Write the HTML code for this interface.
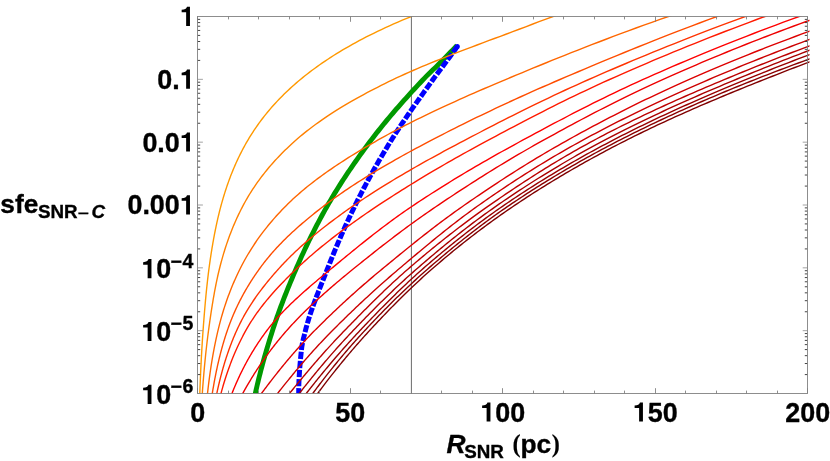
<!DOCTYPE html>
<html><head><meta charset="utf-8"><title>sfe vs R_SNR</title>
<style>
html,body{margin:0;padding:0;background:#fff;}
body{width:830px;height:461px;overflow:hidden;font-family:"Liberation Sans",sans-serif;}
svg{display:block;}
</style></head><body>
<svg width="830" height="461" viewBox="0 0 830 461">
<defs><clipPath id="c"><rect x="197.50" y="16.50" width="612.00" height="377.00"/></clipPath><filter id="gray" x="0" y="0" width="830" height="461" filterUnits="userSpaceOnUse" color-interpolation-filters="sRGB"><feColorMatrix type="saturate" values="0"/></filter></defs>
<rect width="830" height="461" fill="#fff"/>
<line x1="411.40" y1="16.50" x2="411.40" y2="393.50" stroke="#505050" stroke-width="0.85"/>
<g clip-path="url(#c)" fill="none" stroke-linejoin="round">
<path d="M255.30,393.50 L255.78,391.31 L256.28,389.12 L256.78,386.93 L257.29,384.75 L257.81,382.56 L258.34,380.37 L258.88,378.18 L259.43,375.99 L259.99,373.80 L260.55,371.61 L261.12,369.42 L261.71,367.24 L262.29,365.05 L262.89,362.86 L263.50,360.67 L264.11,358.48 L264.73,356.29 L265.36,354.10 L265.99,351.92 L266.63,349.73 L267.28,347.54 L267.93,345.35 L268.59,343.16 L269.26,340.97 L269.94,338.78 L270.62,336.59 L271.30,334.41 L271.99,332.22 L272.69,330.03 L273.40,327.84 L274.11,325.65 L274.84,323.46 L275.58,321.27 L276.34,319.08 L277.10,316.90 L277.87,314.71 L278.65,312.52 L279.45,310.33 L280.25,308.14 L281.06,305.95 L281.89,303.76 L282.72,301.58 L283.56,299.39 L284.41,297.20 L285.27,295.01 L286.13,292.82 L287.01,290.63 L287.89,288.44 L288.78,286.25 L289.68,284.07 L290.58,281.88 L291.49,279.69 L292.41,277.50 L293.33,275.31 L294.26,273.12 L295.20,270.93 L296.14,268.75 L297.09,266.56 L298.05,264.37 L299.01,262.18 L299.99,259.99 L300.97,257.80 L301.96,255.61 L302.97,253.42 L303.98,251.24 L305.00,249.05 L306.03,246.86 L307.07,244.67 L308.13,242.48 L309.19,240.29 L310.26,238.10 L311.34,235.92 L312.43,233.73 L313.54,231.54 L314.65,229.35 L315.78,227.16 L316.91,224.97 L318.06,222.78 L319.22,220.59 L320.39,218.41 L321.57,216.22 L322.76,214.03 L323.96,211.84 L325.18,209.65 L326.41,207.46 L327.64,205.27 L328.90,203.08 L330.17,200.90 L331.45,198.71 L332.75,196.52 L334.07,194.33 L335.40,192.14 L336.75,189.95 L338.11,187.76 L339.48,185.58 L340.87,183.39 L342.28,181.20 L343.70,179.01 L345.13,176.82 L346.58,174.63 L348.04,172.44 L349.52,170.25 L351.01,168.07 L352.51,165.88 L354.03,163.69 L355.55,161.50 L357.09,159.31 L358.65,157.12 L360.21,154.93 L361.79,152.75 L363.38,150.56 L364.98,148.37 L366.59,146.18 L368.21,143.99 L369.85,141.80 L371.50,139.61 L373.17,137.42 L374.86,135.24 L376.56,133.05 L378.29,130.86 L380.03,128.67 L381.79,126.48 L383.57,124.29 L385.37,122.10 L387.18,119.92 L389.01,117.73 L390.85,115.54 L392.71,113.35 L394.58,111.16 L396.47,108.97 L398.38,106.78 L400.30,104.59 L402.23,102.41 L404.18,100.22 L406.14,98.03 L408.11,95.84 L410.10,93.65 L412.10,91.46 L414.11,89.27 L416.13,87.08 L418.16,84.90 L420.21,82.71 L422.27,80.52 L424.34,78.33 L426.48,76.14 L428.69,73.95 L430.94,71.76 L433.21,69.58 L435.48,67.39 L437.70,65.20 L439.88,63.01 L442.06,60.82 L444.22,58.63 L446.37,56.44 L448.52,54.25 L450.65,52.07 L452.78,49.88 L454.90,47.69 L457.00,45.50" stroke="#009900" stroke-width="4.9"/>
<path d="M298.70,393.50 L298.71,391.32 L298.74,389.13 L298.78,386.95 L298.84,384.77 L298.91,382.58 L299.00,380.40 L299.11,378.21 L299.23,376.03 L299.36,373.85 L299.50,371.66 L299.65,369.48 L299.81,367.30 L299.99,365.11 L300.17,362.93 L300.36,360.75 L300.56,358.56 L300.77,356.38 L300.98,354.19 L301.20,352.01 L301.42,349.83 L301.69,347.64 L302.03,345.46 L302.43,343.28 L302.88,341.09 L303.37,338.91 L303.90,336.73 L304.44,334.54 L305.00,332.36 L305.56,330.17 L306.12,327.99 L306.71,325.81 L307.32,323.62 L307.96,321.44 L308.62,319.26 L309.30,317.07 L310.00,314.89 L310.72,312.71 L311.46,310.52 L312.22,308.34 L312.99,306.15 L313.77,303.97 L314.57,301.79 L315.38,299.60 L316.20,297.42 L317.03,295.24 L317.87,293.05 L318.72,290.87 L319.58,288.68 L320.44,286.50 L321.30,284.32 L322.17,282.13 L323.04,279.95 L323.91,277.77 L324.79,275.58 L325.66,273.40 L326.53,271.22 L327.40,269.03 L328.26,266.85 L329.12,264.66 L329.99,262.48 L330.87,260.30 L331.75,258.11 L332.63,255.93 L333.53,253.75 L334.43,251.56 L335.33,249.38 L336.24,247.20 L337.16,245.01 L338.08,242.83 L339.01,240.64 L339.95,238.46 L340.90,236.28 L341.85,234.09 L342.81,231.91 L343.78,229.73 L344.75,227.54 L345.74,225.36 L346.73,223.18 L347.73,220.99 L348.73,218.81 L349.75,216.62 L350.77,214.44 L351.80,212.26 L352.85,210.07 L353.90,207.89 L354.96,205.71 L356.02,203.52 L357.10,201.34 L358.19,199.16 L359.29,196.97 L360.41,194.79 L361.53,192.60 L362.66,190.42 L363.80,188.24 L364.95,186.05 L366.12,183.87 L367.29,181.69 L368.47,179.50 L369.66,177.32 L370.86,175.14 L372.08,172.95 L373.30,170.77 L374.53,168.58 L375.76,166.40 L377.01,164.22 L378.27,162.03 L379.53,159.85 L380.81,157.67 L382.09,155.48 L383.38,153.30 L384.68,151.12 L385.99,148.93 L387.31,146.75 L388.63,144.56 L389.97,142.38 L391.31,140.20 L392.67,138.01 L394.05,135.83 L395.44,133.65 L396.85,131.46 L398.27,129.28 L399.70,127.09 L401.15,124.91 L402.61,122.73 L404.08,120.54 L405.56,118.36 L407.05,116.18 L408.55,113.99 L410.06,111.81 L411.58,109.63 L413.11,107.44 L414.64,105.26 L416.18,103.07 L417.73,100.89 L419.28,98.71 L420.83,96.52 L422.39,94.34 L423.96,92.16 L425.52,89.97 L427.09,87.79 L428.66,85.61 L430.22,83.42 L431.79,81.24 L433.36,79.05 L434.94,76.87 L436.55,74.69 L438.17,72.50 L439.80,70.32 L441.44,68.14 L443.07,65.95 L444.70,63.77 L446.31,61.59 L447.91,59.40 L449.50,57.22 L451.09,55.03 L452.68,52.85 L454.25,50.67 L455.83,48.48 L457.40,46.30" stroke="#0000ff" stroke-width="5.0" stroke-dasharray="7.3 1.8" stroke-dashoffset="1.9" stroke-linecap="butt"/>
<circle cx="457.3" cy="46.6" r="2.5" fill="#0000ff" stroke="none"/>
<path d="M199.59,400.65 L199.80,393.40 L199.84,392.26 L199.88,391.11 L199.93,389.94 L199.97,388.77 L200.02,387.58 L200.06,386.39 L200.11,385.18 L200.16,383.96 L200.21,382.73 L200.26,381.50 L200.31,380.25 L200.36,378.99 L200.41,377.72 L200.47,376.44 L200.53,375.16 L200.58,373.86 L200.64,372.55 L200.70,371.24 L200.76,369.91 L200.82,368.58 L200.89,367.23 L200.95,365.88 L201.02,364.52 L201.09,363.15 L201.16,361.77 L201.23,360.39 L201.30,358.99 L201.37,357.59 L201.45,356.18 L201.53,354.76 L201.61,353.34 L201.69,351.90 L201.77,350.46 L201.85,349.01 L201.94,347.55 L202.03,346.09 L202.12,344.62 L202.21,343.14 L202.30,341.66 L202.40,340.16 L202.50,338.66 L202.60,337.16 L202.70,335.65 L202.81,334.13 L202.91,332.61 L203.02,331.08 L203.13,329.54 L203.25,327.99 L203.36,326.41 L203.48,324.82 L203.60,323.21 L203.73,321.58 L203.86,319.93 L203.99,318.27 L204.12,316.59 L204.25,314.90 L204.39,313.19 L204.53,311.47 L204.68,309.74 L204.83,308.00 L204.98,306.25 L205.13,304.48 L205.29,302.71 L205.45,300.93 L205.61,299.14 L205.78,297.34 L205.95,295.54 L206.13,293.73 L206.31,291.92 L206.49,290.10 L206.68,288.28 L206.87,286.46 L207.07,284.63 L207.27,282.81 L207.47,280.98 L207.68,279.16 L207.89,277.33 L208.11,275.51 L208.33,273.69 L208.56,271.88 L208.79,270.07 L209.03,268.26 L209.27,266.47 L209.52,264.66 L209.77,262.85 L210.03,261.04 L210.30,259.22 L210.57,257.40 L210.84,255.57 L211.13,253.73 L211.41,251.89 L211.71,250.05 L212.01,248.21 L212.32,246.36 L212.63,244.51 L212.95,242.65 L213.28,240.80 L213.61,238.94 L213.96,237.08 L214.31,235.22 L214.66,233.36 L215.03,231.49 L215.40,229.63 L215.78,227.77 L216.17,225.90 L216.57,224.04 L216.98,222.18 L217.40,220.32 L217.82,218.45 L218.25,216.60 L218.70,214.74 L219.15,212.89 L219.61,211.03 L220.09,209.18 L220.57,207.34 L221.06,205.50 L221.57,203.66 L222.09,201.82 L222.61,199.98 L223.15,198.14 L223.70,196.30 L224.26,194.47 L224.84,192.63 L225.43,190.79 L226.03,188.96 L226.64,187.12 L227.26,185.29 L227.90,183.46 L228.56,181.62 L229.23,179.79 L229.91,177.96 L230.61,176.12 L231.32,174.29 L232.05,172.46 L232.79,170.63 L233.55,168.80 L234.33,166.97 L235.12,165.14 L235.93,163.31 L236.76,161.48 L237.61,159.65 L238.48,157.82 L239.36,155.99 L240.26,154.16 L241.19,152.33 L242.13,150.51 L243.09,148.68 L244.08,146.85 L245.08,145.03 L246.11,143.20 L247.16,141.37 L248.24,139.55 L249.33,137.72 L250.46,135.90 L251.60,134.08 L252.77,132.26 L253.97,130.44 L255.19,128.62 L256.44,126.80 L257.71,124.99 L259.02,123.17 L260.35,121.36 L261.71,119.54 L263.10,117.72 L264.52,115.91 L265.97,114.09 L267.46,112.28 L268.97,110.46 L270.52,108.65 L272.10,106.83 L273.72,105.02 L275.37,103.20 L277.06,101.38 L278.79,99.56 L280.55,97.74 L282.35,95.92 L284.19,94.10 L286.07,92.28 L287.99,90.45 L289.96,88.63 L291.96,86.80 L294.01,84.97 L296.11,83.14 L298.25,81.31 L300.43,79.47 L302.67,77.63 L304.95,75.80 L307.28,73.96 L309.67,72.12 L312.10,70.28 L314.59,68.44 L317.13,66.59 L319.73,64.75 L322.39,62.91 L325.10,61.06 L327.87,59.22 L330.70,57.37 L333.60,55.52 L336.56,53.67 L339.58,51.82 L342.67,49.97 L345.82,48.12 L349.04,46.27 L352.34,44.41 L355.70,42.56 L359.14,40.70 L362.66,38.85 L366.25,36.99 L369.92,35.13 L373.66,33.27 L377.49,31.41 L381.41,29.55 L385.41,27.69 L389.49,25.83 L393.67,23.96 L397.94,22.10 L402.29,20.23 L406.75,18.37 L411.30,16.50 L416.27,14.52" stroke="#ff9900" stroke-width="1.4"/>
<path d="M201.82,401.61 L202.30,393.40 L202.39,392.14 L202.48,390.88 L202.57,389.60 L202.67,388.32 L202.76,387.02 L202.86,385.72 L202.96,384.41 L203.07,383.09 L203.17,381.76 L203.28,380.42 L203.39,379.08 L203.50,377.73 L203.61,376.36 L203.73,374.99 L203.84,373.62 L203.96,372.23 L204.09,370.84 L204.21,369.43 L204.34,368.02 L204.47,366.61 L204.60,365.18 L204.74,363.75 L204.88,362.31 L205.02,360.86 L205.16,359.41 L205.31,357.95 L205.46,356.48 L205.61,355.00 L205.77,353.52 L205.93,352.03 L206.09,350.53 L206.26,349.03 L206.43,347.52 L206.60,346.01 L206.78,344.48 L206.96,342.96 L207.14,341.42 L207.33,339.88 L207.52,338.33 L207.71,336.78 L207.91,335.22 L208.11,333.66 L208.32,332.09 L208.53,330.51 L208.75,328.92 L208.97,327.32 L209.19,325.70 L209.42,324.06 L209.65,322.40 L209.89,320.73 L210.13,319.04 L210.38,317.33 L210.63,315.62 L210.89,313.89 L211.15,312.15 L211.42,310.40 L211.70,308.64 L211.98,306.87 L212.26,305.09 L212.55,303.30 L212.85,301.51 L213.15,299.71 L213.46,297.91 L213.78,296.11 L214.10,294.30 L214.42,292.49 L214.76,290.68 L215.10,288.87 L215.45,287.06 L215.80,285.25 L216.17,283.45 L216.54,281.65 L216.91,279.85 L217.30,278.06 L217.69,276.27 L218.09,274.50 L218.50,272.73 L218.92,270.97 L219.35,269.22 L219.78,267.47 L220.22,265.74 L220.67,264.01 L221.14,262.29 L221.61,260.56 L222.09,258.84 L222.58,257.11 L223.08,255.39 L223.59,253.67 L224.11,251.96 L224.64,250.24 L225.18,248.52 L225.73,246.81 L226.29,245.10 L226.87,243.38 L227.46,241.67 L228.05,239.96 L228.67,238.25 L229.29,236.55 L229.92,234.84 L230.57,233.13 L231.23,231.43 L231.91,229.72 L232.60,228.02 L233.30,226.31 L234.02,224.61 L234.75,222.90 L235.50,221.20 L236.26,219.50 L237.03,217.80 L237.83,216.09 L238.63,214.39 L239.46,212.69 L240.30,210.99 L241.16,209.29 L242.04,207.58 L242.93,205.88 L243.84,204.18 L244.77,202.48 L245.72,200.78 L246.69,199.09 L247.68,197.39 L248.69,195.70 L249.71,194.01 L250.76,192.33 L251.83,190.64 L252.93,188.95 L254.04,187.27 L255.18,185.59 L256.34,183.90 L257.52,182.22 L258.73,180.54 L259.96,178.85 L261.22,177.17 L262.50,175.49 L263.81,173.81 L265.14,172.12 L266.50,170.44 L267.89,168.75 L269.31,167.06 L270.76,165.38 L272.23,163.69 L273.74,161.99 L275.27,160.30 L276.84,158.61 L278.44,156.91 L280.07,155.21 L281.73,153.50 L283.43,151.80 L285.16,150.09 L286.93,148.38 L288.74,146.66 L290.57,144.94 L292.45,143.22 L294.37,141.49 L296.32,139.77 L298.31,138.04 L300.35,136.32 L302.42,134.60 L304.54,132.88 L306.70,131.16 L308.90,129.44 L311.15,127.72 L313.44,126.00 L315.78,124.28 L318.17,122.56 L320.61,120.84 L323.09,119.11 L325.63,117.38 L328.21,115.65 L330.85,113.92 L333.54,112.18 L336.29,110.44 L339.09,108.69 L341.95,106.94 L344.87,105.19 L347.85,103.42 L350.88,101.66 L353.98,99.88 L357.14,98.10 L360.37,96.32 L363.66,94.52 L367.01,92.72 L370.44,90.91 L373.93,89.09 L377.50,87.27 L381.14,85.43 L384.85,83.58 L388.63,81.73 L392.50,79.86 L396.44,77.99 L400.46,76.11 L404.56,74.24 L408.74,72.37 L413.01,70.49 L417.37,68.61 L421.81,66.72 L426.35,64.83 L430.98,62.92 L435.70,61.00 L440.51,59.07 L445.43,57.12 L450.44,55.15 L455.55,53.16 L460.77,51.15 L466.09,49.11 L471.53,47.05 L477.07,44.97 L482.72,42.85 L488.49,40.70 L494.37,38.52 L500.38,36.30 L506.50,34.03 L512.75,31.68 L519.13,29.27 L525.63,26.79 L532.27,24.26 L539.04,21.70 L545.95,19.11 L553.00,16.50 L561.27,13.65" stroke="#ff8000" stroke-width="1.4"/>
<path d="M206.46,403.21 L207.50,393.40 L207.67,391.87 L207.85,390.34 L208.03,388.81 L208.21,387.28 L208.39,385.75 L208.58,384.22 L208.77,382.69 L208.97,381.16 L209.17,379.64 L209.37,378.11 L209.57,376.59 L209.78,375.07 L209.99,373.55 L210.21,372.02 L210.43,370.50 L210.66,368.98 L210.89,367.47 L211.12,365.95 L211.36,364.43 L211.60,362.92 L211.84,361.40 L212.09,359.89 L212.35,358.37 L212.61,356.86 L212.87,355.35 L213.14,353.84 L213.41,352.33 L213.69,350.82 L213.97,349.31 L214.26,347.81 L214.55,346.30 L214.85,344.79 L215.16,343.29 L215.47,341.79 L215.78,340.28 L216.10,338.78 L216.43,337.28 L216.76,335.78 L217.10,334.28 L217.44,332.79 L217.79,331.29 L218.15,329.79 L218.51,328.30 L218.88,326.81 L219.26,325.32 L219.64,323.83 L220.03,322.35 L220.43,320.87 L220.83,319.39 L221.24,317.91 L221.66,316.43 L222.09,314.95 L222.52,313.48 L222.96,312.01 L223.41,310.54 L223.87,309.07 L224.34,307.60 L224.81,306.13 L225.29,304.66 L225.78,303.19 L226.28,301.72 L226.79,300.26 L227.31,298.79 L227.84,297.32 L228.37,295.86 L228.92,294.39 L229.48,292.92 L230.04,291.45 L230.62,289.98 L231.21,288.51 L231.80,287.04 L232.41,285.57 L233.03,284.09 L233.66,282.62 L234.30,281.14 L234.95,279.66 L235.62,278.18 L236.29,276.70 L236.98,275.22 L237.68,273.73 L238.40,272.24 L239.12,270.75 L239.86,269.26 L240.61,267.76 L241.38,266.26 L242.16,264.76 L242.95,263.26 L243.76,261.76 L244.58,260.27 L245.42,258.77 L246.27,257.27 L247.14,255.77 L248.02,254.27 L248.92,252.77 L249.84,251.27 L250.77,249.77 L251.71,248.26 L252.68,246.76 L253.66,245.26 L254.66,243.75 L255.68,242.24 L256.71,240.73 L257.77,239.22 L258.84,237.71 L259.94,236.20 L261.05,234.68 L262.18,233.17 L263.33,231.65 L264.51,230.13 L265.70,228.60 L266.92,227.08 L268.15,225.55 L269.41,224.01 L270.69,222.48 L272.00,220.94 L273.33,219.40 L274.68,217.86 L276.06,216.31 L277.46,214.76 L278.89,213.21 L280.34,211.65 L281.82,210.09 L283.32,208.53 L284.85,206.96 L286.41,205.39 L288.00,203.81 L289.61,202.24 L291.26,200.67 L292.93,199.11 L294.64,197.54 L296.37,195.98 L298.14,194.41 L299.93,192.85 L301.76,191.28 L303.62,189.71 L305.52,188.15 L307.45,186.58 L309.41,185.01 L311.41,183.43 L313.45,181.85 L315.52,180.27 L317.63,178.68 L319.78,177.09 L321.96,175.50 L324.18,173.90 L326.45,172.29 L328.75,170.67 L331.10,169.05 L333.49,167.42 L335.92,165.79 L338.39,164.14 L340.91,162.49 L343.48,160.82 L346.09,159.15 L348.74,157.46 L351.45,155.77 L354.20,154.06 L357.00,152.35 L359.86,150.62 L362.76,148.87 L365.72,147.12 L368.73,145.35 L371.79,143.56 L374.91,141.77 L378.08,139.96 L381.31,138.14 L384.60,136.32 L387.95,134.49 L391.35,132.65 L394.82,130.80 L398.35,128.94 L401.95,127.07 L405.61,125.19 L409.33,123.29 L413.12,121.39 L416.98,119.47 L420.91,117.54 L424.91,115.59 L428.98,113.63 L433.12,111.66 L437.34,109.66 L441.63,107.66 L446.00,105.63 L450.45,103.59 L454.98,101.53 L459.59,99.45 L464.28,97.35 L469.05,95.23 L473.92,93.09 L478.86,90.93 L483.90,88.75 L489.03,86.55 L494.25,84.33 L499.56,82.08 L504.97,79.81 L510.48,77.51 L516.08,75.17 L521.79,72.81 L527.59,70.40 L533.51,67.97 L539.52,65.50 L545.65,63.00 L551.88,60.47 L558.23,57.92 L564.69,55.33 L571.27,52.71 L577.96,50.07 L584.78,47.40 L591.71,44.70 L598.77,41.98 L605.96,39.24 L613.28,36.47 L620.72,33.68 L628.31,30.86 L636.02,28.03 L643.88,25.17 L651.87,22.30 L660.01,19.41 L668.30,16.50 L679.26,13.08" stroke="#ff6600" stroke-width="1.4"/>
<path d="M210.73,403.53 L212.30,393.40 L212.54,391.93 L212.78,390.45 L213.02,388.98 L213.27,387.51 L213.53,386.04 L213.79,384.57 L214.05,383.11 L214.31,381.65 L214.59,380.18 L214.86,378.72 L215.14,377.26 L215.43,375.81 L215.71,374.35 L216.01,372.90 L216.31,371.44 L216.61,369.99 L216.92,368.54 L217.23,367.09 L217.55,365.65 L217.88,364.20 L218.21,362.76 L218.54,361.32 L218.88,359.88 L219.23,358.44 L219.58,357.00 L219.94,355.57 L220.30,354.14 L220.67,352.70 L221.05,351.27 L221.43,349.85 L221.82,348.42 L222.21,346.99 L222.61,345.57 L223.02,344.15 L223.44,342.73 L223.86,341.31 L224.29,339.90 L224.72,338.48 L225.16,337.07 L225.61,335.66 L226.07,334.25 L226.54,332.84 L227.01,331.43 L227.49,330.03 L227.98,328.63 L228.47,327.23 L228.98,325.84 L229.49,324.45 L230.01,323.06 L230.54,321.68 L231.08,320.31 L231.63,318.93 L232.19,317.56 L232.75,316.19 L233.33,314.83 L233.91,313.46 L234.51,312.10 L235.11,310.74 L235.72,309.38 L236.35,308.03 L236.98,306.67 L237.63,305.32 L238.28,303.97 L238.95,302.62 L239.63,301.27 L240.32,299.92 L241.02,298.57 L241.73,297.21 L242.45,295.86 L243.19,294.51 L243.93,293.16 L244.69,291.81 L245.47,290.46 L246.25,289.10 L247.05,287.75 L247.86,286.39 L248.68,285.03 L249.52,283.67 L250.37,282.30 L251.24,280.94 L252.12,279.57 L253.02,278.20 L253.93,276.82 L254.85,275.45 L255.79,274.06 L256.75,272.68 L257.72,271.29 L258.70,269.90 L259.71,268.50 L260.73,267.10 L261.76,265.70 L262.82,264.30 L263.89,262.90 L264.98,261.50 L266.08,260.11 L267.21,258.72 L268.35,257.33 L269.52,255.94 L270.70,254.55 L271.90,253.16 L273.12,251.76 L274.36,250.37 L275.62,248.98 L276.91,247.59 L278.21,246.19 L279.54,244.80 L280.88,243.40 L282.25,242.00 L283.65,240.59 L285.06,239.18 L286.50,237.77 L287.96,236.36 L289.45,234.94 L290.96,233.51 L292.49,232.09 L294.05,230.65 L295.64,229.21 L297.25,227.77 L298.89,226.31 L300.56,224.86 L302.26,223.39 L303.98,221.92 L305.73,220.44 L307.51,218.95 L309.32,217.45 L311.16,215.95 L313.02,214.44 L314.92,212.91 L316.86,211.38 L318.82,209.84 L320.81,208.29 L322.84,206.72 L324.90,205.15 L327.00,203.57 L329.13,201.98 L331.30,200.39 L333.50,198.79 L335.74,197.18 L338.01,195.57 L340.32,193.96 L342.67,192.33 L345.06,190.70 L347.49,189.06 L349.96,187.42 L352.47,185.76 L355.02,184.10 L357.61,182.43 L360.25,180.74 L362.93,179.05 L365.65,177.35 L368.42,175.64 L371.23,173.91 L374.09,172.18 L377.00,170.43 L379.96,168.68 L382.96,166.91 L386.02,165.12 L389.12,163.33 L392.28,161.52 L395.49,159.69 L398.75,157.86 L402.06,156.00 L405.43,154.14 L408.85,152.26 L412.34,150.36 L415.87,148.44 L419.47,146.52 L423.13,144.57 L426.85,142.61 L430.62,140.63 L434.46,138.62 L438.37,136.60 L442.34,134.56 L446.37,132.50 L450.47,130.42 L454.64,128.31 L458.88,126.19 L463.18,124.05 L467.56,121.88 L472.01,119.70 L476.54,117.49 L481.13,115.27 L485.81,113.02 L490.56,110.76 L495.39,108.47 L500.30,106.17 L505.29,103.84 L510.36,101.50 L515.52,99.13 L520.76,96.75 L526.09,94.34 L531.50,91.92 L537.01,89.47 L542.61,87.00 L548.30,84.52 L554.08,82.01 L559.96,79.49 L565.93,76.94 L572.00,74.35 L578.18,71.74 L584.45,69.08 L590.83,66.40 L597.32,63.68 L603.91,60.93 L610.61,58.15 L617.42,55.35 L624.34,52.51 L631.38,49.64 L638.54,46.75 L645.81,43.83 L653.20,40.89 L660.71,37.92 L668.35,34.93 L676.12,31.91 L684.01,28.87 L692.03,25.81 L700.18,22.73 L708.47,19.62 L716.90,16.50 L728.99,12.47" stroke="#ff4d00" stroke-width="1.4"/>
<path d="M214.74,403.48 L216.80,393.40 L217.09,392.03 L217.39,390.66 L217.69,389.29 L218.00,387.93 L218.31,386.56 L218.63,385.20 L218.95,383.83 L219.27,382.47 L219.60,381.11 L219.94,379.75 L220.28,378.39 L220.63,377.03 L220.98,375.68 L221.34,374.32 L221.70,372.97 L222.07,371.61 L222.44,370.26 L222.82,368.91 L223.21,367.56 L223.60,366.21 L224.00,364.86 L224.40,363.51 L224.81,362.16 L225.23,360.82 L225.65,359.47 L226.08,358.13 L226.52,356.79 L226.96,355.45 L227.41,354.11 L227.87,352.77 L228.34,351.43 L228.81,350.09 L229.29,348.76 L229.77,347.42 L230.27,346.09 L230.77,344.76 L231.28,343.43 L231.79,342.10 L232.32,340.77 L232.85,339.44 L233.39,338.11 L233.94,336.79 L234.50,335.46 L235.07,334.14 L235.64,332.82 L236.23,331.50 L236.82,330.18 L237.42,328.86 L238.03,327.55 L238.66,326.24 L239.29,324.94 L239.93,323.64 L240.58,322.35 L241.24,321.06 L241.91,319.78 L242.59,318.50 L243.29,317.22 L243.99,315.94 L244.70,314.67 L245.43,313.40 L246.16,312.13 L246.91,310.87 L247.67,309.60 L248.44,308.34 L249.22,307.07 L250.02,305.81 L250.83,304.55 L251.65,303.29 L252.48,302.02 L253.32,300.76 L254.18,299.50 L255.05,298.23 L255.94,296.96 L256.84,295.70 L257.75,294.43 L258.68,293.15 L259.62,291.88 L260.57,290.60 L261.55,289.31 L262.53,288.03 L263.53,286.74 L264.55,285.45 L265.58,284.15 L266.63,282.84 L267.69,281.54 L268.77,280.22 L269.87,278.90 L270.99,277.58 L272.12,276.25 L273.27,274.91 L274.44,273.56 L275.62,272.21 L276.82,270.85 L278.05,269.49 L279.29,268.11 L280.55,266.73 L281.83,265.34 L283.13,263.95 L284.45,262.56 L285.79,261.17 L287.15,259.78 L288.53,258.38 L289.94,256.98 L291.36,255.58 L292.81,254.17 L294.28,252.76 L295.77,251.34 L297.29,249.93 L298.83,248.50 L300.39,247.08 L301.98,245.64 L303.59,244.21 L305.23,242.77 L306.89,241.32 L308.58,239.86 L310.29,238.40 L312.03,236.94 L313.80,235.46 L315.59,233.98 L317.42,232.50 L319.27,231.00 L321.15,229.50 L323.06,227.99 L324.99,226.48 L326.96,224.95 L328.96,223.41 L330.99,221.87 L333.05,220.32 L335.15,218.76 L337.27,217.19 L339.43,215.60 L341.62,214.01 L343.85,212.41 L346.11,210.80 L348.40,209.18 L350.74,207.54 L353.10,205.90 L355.51,204.24 L357.95,202.57 L360.43,200.90 L362.94,199.22 L365.50,197.52 L368.09,195.82 L370.73,194.11 L373.41,192.39 L376.13,190.65 L378.89,188.91 L381.69,187.16 L384.54,185.39 L387.43,183.61 L390.36,181.82 L393.34,180.02 L396.37,178.20 L399.44,176.37 L402.56,174.53 L405.73,172.67 L408.95,170.80 L412.22,168.91 L415.54,167.01 L418.91,165.10 L422.34,163.17 L425.81,161.22 L429.34,159.26 L432.93,157.28 L436.57,155.28 L440.26,153.27 L444.02,151.24 L447.83,149.19 L451.70,147.12 L455.63,145.04 L459.62,142.93 L463.67,140.81 L467.79,138.65 L471.97,136.47 L476.22,134.25 L480.53,132.00 L484.90,129.73 L489.35,127.42 L493.86,125.09 L498.45,122.74 L503.10,120.36 L507.83,117.96 L512.63,115.53 L517.50,113.09 L522.45,110.62 L527.48,108.13 L532.58,105.63 L537.77,103.10 L543.03,100.56 L548.38,98.01 L553.80,95.44 L559.32,92.85 L564.91,90.25 L570.60,87.65 L576.37,85.02 L582.23,82.39 L588.18,79.75 L594.23,77.10 L600.37,74.43 L606.60,71.73 L612.93,69.01 L619.36,66.26 L625.89,63.50 L632.51,60.71 L639.25,57.90 L646.08,55.06 L653.02,52.21 L660.07,49.34 L667.23,46.44 L674.50,43.53 L681.88,40.60 L689.38,37.65 L696.99,34.68 L704.72,31.69 L712.57,28.69 L720.54,25.67 L728.63,22.63 L736.85,19.57 L745.20,16.50 L757.95,12.19" stroke="#ff3300" stroke-width="1.4"/>
<path d="M218.49,403.32 L221.00,393.40 L221.34,392.14 L221.69,390.87 L222.04,389.61 L222.39,388.35 L222.75,387.09 L223.12,385.82 L223.49,384.56 L223.86,383.30 L224.25,382.04 L224.64,380.78 L225.03,379.51 L225.43,378.25 L225.83,376.99 L226.24,375.73 L226.66,374.47 L227.09,373.21 L227.51,371.95 L227.95,370.69 L228.39,369.43 L228.84,368.17 L229.30,366.91 L229.76,365.64 L230.23,364.38 L230.70,363.12 L231.19,361.87 L231.68,360.61 L232.18,359.35 L232.68,358.09 L233.19,356.83 L233.71,355.57 L234.24,354.31 L234.77,353.05 L235.32,351.79 L235.87,350.53 L236.43,349.27 L236.99,348.02 L237.57,346.76 L238.15,345.50 L238.75,344.24 L239.35,342.98 L239.96,341.73 L240.58,340.47 L241.20,339.21 L241.84,337.95 L242.49,336.70 L243.14,335.44 L243.81,334.18 L244.49,332.93 L245.17,331.67 L245.87,330.41 L246.57,329.16 L247.29,327.91 L248.02,326.66 L248.76,325.42 L249.50,324.19 L250.26,322.96 L251.04,321.73 L251.82,320.50 L252.61,319.28 L253.42,318.06 L254.23,316.85 L255.06,315.63 L255.91,314.42 L256.76,313.21 L257.63,312.00 L258.50,310.79 L259.40,309.58 L260.30,308.38 L261.22,307.17 L262.15,305.96 L263.10,304.75 L264.06,303.54 L265.03,302.33 L266.02,301.11 L267.02,299.90 L268.04,298.68 L269.07,297.46 L270.12,296.23 L271.19,295.00 L272.26,293.77 L273.36,292.54 L274.47,291.30 L275.60,290.05 L276.74,288.80 L277.90,287.55 L279.08,286.28 L280.27,285.02 L281.49,283.74 L282.72,282.46 L283.97,281.18 L285.23,279.88 L286.52,278.58 L287.82,277.27 L289.15,275.95 L290.49,274.62 L291.85,273.29 L293.24,271.94 L294.64,270.58 L296.06,269.22 L297.51,267.84 L298.98,266.46 L300.46,265.06 L301.97,263.67 L303.51,262.26 L305.06,260.86 L306.64,259.44 L308.24,258.02 L309.86,256.59 L311.51,255.16 L313.18,253.72 L314.88,252.27 L316.60,250.82 L318.35,249.36 L320.12,247.89 L321.92,246.41 L323.75,244.93 L325.60,243.44 L327.48,241.93 L329.39,240.43 L331.33,238.91 L333.29,237.38 L335.28,235.85 L337.31,234.30 L339.36,232.75 L341.44,231.18 L343.55,229.61 L345.70,228.03 L347.87,226.43 L350.08,224.83 L352.32,223.22 L354.60,221.59 L356.90,219.95 L359.24,218.31 L361.62,216.65 L364.03,214.98 L366.47,213.29 L368.96,211.60 L371.47,209.89 L374.03,208.18 L376.62,206.44 L379.25,204.70 L381.92,202.94 L384.63,201.17 L387.38,199.38 L390.17,197.57 L393.00,195.75 L395.87,193.92 L398.79,192.06 L401.75,190.20 L404.75,188.31 L407.79,186.41 L410.88,184.50 L414.02,182.57 L417.20,180.62 L420.43,178.66 L423.70,176.68 L427.03,174.69 L430.40,172.68 L433.82,170.66 L437.30,168.62 L440.82,166.56 L444.40,164.49 L448.02,162.41 L451.71,160.30 L455.44,158.19 L459.23,156.05 L463.08,153.90 L466.99,151.74 L470.95,149.56 L474.97,147.36 L479.05,145.15 L483.18,142.92 L487.38,140.67 L491.65,138.39 L495.97,136.08 L500.36,133.74 L504.81,131.37 L509.33,128.98 L513.91,126.55 L518.57,124.11 L523.29,121.63 L528.08,119.14 L532.94,116.62 L537.87,114.08 L542.88,111.52 L547.95,108.95 L553.11,106.35 L558.34,103.74 L563.64,101.12 L569.03,98.48 L574.49,95.84 L580.03,93.18 L585.66,90.51 L591.37,87.83 L597.16,85.15 L603.04,82.46 L609.00,79.76 L615.06,77.06 L621.20,74.34 L627.43,71.60 L633.75,68.84 L640.17,66.07 L646.68,63.28 L653.29,60.47 L659.99,57.65 L666.79,54.81 L673.70,51.95 L680.70,49.08 L687.81,46.19 L695.02,43.29 L702.34,40.37 L709.76,37.44 L717.30,34.49 L724.95,31.52 L732.71,28.55 L740.58,25.56 L748.57,22.55 L756.67,19.53 L764.90,16.50 L778.11,11.97" stroke="#ff1a00" stroke-width="1.4"/>
<path d="M228.29,403.67 L232.00,393.40 L232.45,392.26 L232.91,391.13 L233.37,389.99 L233.83,388.85 L234.31,387.71 L234.79,386.57 L235.28,385.42 L235.77,384.28 L236.27,383.13 L236.77,381.98 L237.29,380.84 L237.81,379.69 L238.33,378.54 L238.87,377.38 L239.41,376.23 L239.95,375.07 L240.51,373.92 L241.07,372.76 L241.64,371.60 L242.22,370.44 L242.80,369.28 L243.39,368.12 L243.99,366.95 L244.60,365.79 L245.22,364.62 L245.84,363.46 L246.47,362.29 L247.11,361.12 L247.76,359.95 L248.42,358.77 L249.09,357.60 L249.76,356.43 L250.45,355.25 L251.14,354.07 L251.84,352.89 L252.55,351.71 L253.27,350.53 L254.00,349.35 L254.74,348.17 L255.49,346.98 L256.25,345.80 L257.02,344.61 L257.80,343.42 L258.59,342.23 L259.39,341.04 L260.20,339.85 L261.03,338.66 L261.86,337.47 L262.70,336.27 L263.56,335.08 L264.42,333.88 L265.30,332.68 L266.19,331.48 L267.09,330.28 L268.00,329.08 L268.93,327.89 L269.86,326.70 L270.81,325.51 L271.77,324.33 L272.75,323.16 L273.73,321.99 L274.73,320.82 L275.75,319.65 L276.77,318.49 L277.82,317.33 L278.87,316.17 L279.94,315.01 L281.02,313.85 L282.12,312.69 L283.23,311.53 L284.35,310.37 L285.49,309.21 L286.65,308.05 L287.82,306.88 L289.00,305.72 L290.20,304.55 L291.42,303.37 L292.66,302.19 L293.91,301.01 L295.17,299.83 L296.45,298.63 L297.75,297.44 L299.07,296.23 L300.41,295.02 L301.76,293.81 L303.13,292.58 L304.51,291.35 L305.92,290.11 L307.35,288.86 L308.79,287.61 L310.25,286.34 L311.73,285.06 L313.23,283.77 L314.76,282.48 L316.30,281.17 L317.86,279.84 L319.44,278.51 L321.04,277.16 L322.67,275.81 L324.31,274.43 L325.98,273.05 L327.67,271.64 L329.38,270.23 L331.12,268.80 L332.87,267.35 L334.65,265.89 L336.46,264.40 L338.28,262.89 L340.13,261.37 L342.01,259.82 L343.91,258.25 L345.84,256.66 L347.79,255.06 L349.76,253.43 L351.77,251.79 L353.80,250.13 L355.85,248.46 L357.94,246.77 L360.05,245.07 L362.19,243.35 L364.35,241.61 L366.55,239.86 L368.77,238.10 L371.03,236.33 L373.31,234.55 L375.62,232.75 L377.97,230.95 L380.34,229.13 L382.75,227.30 L385.19,225.47 L387.66,223.63 L390.16,221.77 L392.69,219.92 L395.26,218.05 L397.87,216.18 L400.50,214.30 L403.17,212.42 L405.88,210.53 L408.63,208.64 L411.40,206.75 L414.22,204.85 L417.07,202.95 L419.96,201.03 L422.89,199.11 L425.86,197.17 L428.87,195.22 L431.91,193.26 L435.00,191.29 L438.13,189.31 L441.29,187.32 L444.50,185.31 L447.76,183.30 L451.05,181.27 L454.39,179.22 L457.77,177.17 L461.20,175.10 L464.67,173.02 L468.19,170.93 L471.76,168.83 L475.37,166.71 L479.03,164.58 L482.74,162.43 L486.49,160.27 L490.30,158.10 L494.16,155.91 L498.06,153.71 L502.02,151.50 L506.03,149.27 L510.10,147.03 L514.21,144.77 L518.39,142.50 L522.61,140.20 L526.90,137.89 L531.23,135.54 L535.63,133.18 L540.08,130.78 L544.60,128.37 L549.17,125.93 L553.80,123.48 L558.50,121.00 L563.25,118.51 L568.07,116.00 L572.95,113.48 L577.90,110.94 L582.91,108.38 L587.99,105.82 L593.13,103.24 L598.35,100.65 L603.63,98.06 L608.98,95.45 L614.40,92.84 L619.89,90.22 L625.46,87.60 L631.10,84.98 L636.81,82.35 L642.60,79.72 L648.47,77.09 L654.41,74.45 L660.43,71.79 L666.53,69.13 L672.71,66.45 L678.97,63.76 L685.32,61.06 L691.75,58.35 L698.26,55.64 L704.86,52.90 L711.54,50.16 L718.32,47.41 L725.18,44.65 L732.14,41.88 L739.18,39.10 L746.32,36.31 L753.55,33.51 L760.88,30.70 L768.31,27.88 L775.83,25.05 L783.45,22.21 L791.18,19.36 L799.00,16.50 L813.00,11.67" stroke="#ff0000" stroke-width="1.4"/>
<path d="M237.92,404.02 L242.80,393.40 L243.34,392.42 L243.88,391.43 L244.43,390.44 L244.99,389.45 L245.56,388.45 L246.13,387.45 L246.70,386.44 L247.29,385.43 L247.88,384.41 L248.48,383.39 L249.09,382.36 L249.70,381.33 L250.32,380.29 L250.95,379.25 L251.58,378.21 L252.23,377.16 L252.88,376.11 L253.54,375.05 L254.20,373.99 L254.88,372.93 L255.56,371.86 L256.25,370.79 L256.95,369.71 L257.66,368.63 L258.37,367.54 L259.10,366.45 L259.83,365.36 L260.57,364.26 L261.33,363.16 L262.09,362.06 L262.85,360.95 L263.63,359.83 L264.42,358.72 L265.22,357.60 L266.02,356.47 L266.84,355.35 L267.67,354.22 L268.50,353.08 L269.35,351.94 L270.20,350.80 L271.07,349.65 L271.95,348.51 L272.83,347.35 L273.73,346.20 L274.64,345.04 L275.56,343.87 L276.49,342.71 L277.43,341.54 L278.39,340.37 L279.35,339.19 L280.33,338.01 L281.31,336.83 L282.31,335.64 L283.32,334.45 L284.35,333.26 L285.38,332.07 L286.43,330.87 L287.49,329.67 L288.57,328.47 L289.65,327.26 L290.75,326.06 L291.87,324.85 L292.99,323.64 L294.13,322.42 L295.28,321.20 L296.45,319.99 L297.63,318.76 L298.83,317.54 L300.04,316.31 L301.26,315.07 L302.50,313.83 L303.75,312.59 L305.02,311.34 L306.30,310.09 L307.60,308.84 L308.92,307.57 L310.25,306.31 L311.59,305.04 L312.96,303.76 L314.33,302.47 L315.73,301.18 L317.14,299.88 L318.57,298.58 L320.02,297.27 L321.48,295.95 L322.96,294.63 L324.46,293.30 L325.97,291.96 L327.51,290.61 L329.06,289.25 L330.63,287.89 L332.22,286.51 L333.83,285.13 L335.46,283.74 L337.11,282.34 L338.78,280.93 L340.47,279.51 L342.18,278.08 L343.90,276.65 L345.65,275.20 L347.42,273.74 L349.22,272.27 L351.03,270.79 L352.86,269.29 L354.72,267.79 L356.60,266.27 L358.50,264.74 L360.43,263.20 L362.37,261.63 L364.34,260.05 L366.34,258.45 L368.36,256.84 L370.40,255.22 L372.47,253.58 L374.56,251.92 L376.67,250.25 L378.82,248.57 L380.98,246.87 L383.18,245.16 L385.40,243.44 L387.64,241.70 L389.92,239.95 L392.22,238.19 L394.55,236.42 L396.90,234.64 L399.29,232.85 L401.70,231.04 L404.14,229.23 L406.61,227.40 L409.12,225.56 L411.65,223.72 L414.21,221.86 L416.80,220.00 L419.42,218.13 L422.08,216.25 L424.76,214.36 L427.48,212.46 L430.23,210.56 L433.02,208.65 L435.83,206.73 L438.68,204.81 L441.57,202.87 L444.49,200.92 L447.44,198.95 L450.43,196.96 L453.46,194.96 L456.52,192.94 L459.62,190.91 L462.76,188.87 L465.93,186.81 L469.14,184.73 L472.39,182.65 L475.68,180.55 L479.01,178.43 L482.38,176.31 L485.79,174.17 L489.24,172.02 L492.73,169.86 L496.26,167.69 L499.84,165.51 L503.45,163.32 L507.11,161.12 L510.82,158.91 L514.57,156.69 L518.36,154.47 L522.20,152.23 L526.09,149.99 L530.02,147.74 L534.00,145.48 L538.03,143.21 L542.10,140.94 L546.23,138.65 L550.40,136.34 L554.63,134.02 L558.90,131.68 L563.23,129.32 L567.60,126.95 L572.03,124.56 L576.52,122.16 L581.05,119.75 L585.64,117.33 L590.29,114.90 L594.99,112.45 L599.75,110.00 L604.57,107.54 L609.44,105.07 L614.37,102.59 L619.36,100.11 L624.41,97.62 L629.52,95.13 L634.69,92.64 L639.93,90.14 L645.22,87.64 L650.58,85.14 L656.01,82.63 L661.50,80.13 L667.05,77.63 L672.67,75.12 L678.36,72.61 L684.12,70.08 L689.94,67.56 L695.84,65.02 L701.81,62.48 L707.84,59.93 L713.95,57.38 L720.14,54.82 L726.40,52.25 L732.73,49.68 L739.14,47.10 L745.62,44.52 L752.18,41.93 L758.83,39.33 L765.55,36.73 L772.35,34.12 L779.23,31.51 L786.20,28.89 L793.25,26.27 L800.38,23.64 L807.60,21.00 L821.80,16.03" stroke="#ee0000" stroke-width="1.4"/>
<path d="M254.58,405.32 L261.50,393.40 L262.16,392.51 L262.83,391.62 L263.50,390.72 L264.18,389.81 L264.87,388.90 L265.56,387.98 L266.27,387.05 L266.97,386.11 L267.69,385.17 L268.42,384.22 L269.15,383.26 L269.89,382.30 L270.63,381.32 L271.39,380.35 L272.15,379.36 L272.92,378.37 L273.70,377.37 L274.48,376.37 L275.28,375.36 L276.08,374.34 L276.89,373.32 L277.71,372.29 L278.54,371.25 L279.38,370.21 L280.22,369.16 L281.08,368.11 L281.94,367.05 L282.81,365.98 L283.69,364.91 L284.58,363.83 L285.48,362.75 L286.39,361.66 L287.31,360.57 L288.24,359.47 L289.17,358.36 L290.12,357.25 L291.08,356.13 L292.04,355.01 L293.02,353.89 L294.01,352.76 L295.00,351.62 L296.01,350.48 L297.03,349.33 L298.06,348.18 L299.10,347.02 L300.15,345.86 L301.21,344.70 L302.28,343.53 L303.36,342.35 L304.46,341.18 L305.56,339.99 L306.68,338.80 L307.81,337.61 L308.95,336.42 L310.10,335.22 L311.26,334.01 L312.44,332.80 L313.63,331.59 L314.83,330.37 L316.04,329.15 L317.27,327.92 L318.51,326.69 L319.76,325.44 L321.02,324.19 L322.30,322.93 L323.59,321.66 L324.89,320.39 L326.21,319.10 L327.54,317.81 L328.89,316.51 L330.25,315.20 L331.62,313.88 L333.01,312.56 L334.41,311.23 L335.82,309.89 L337.26,308.54 L338.70,307.18 L340.16,305.82 L341.64,304.45 L343.13,303.07 L344.64,301.68 L346.16,300.29 L347.70,298.88 L349.25,297.47 L350.82,296.05 L352.41,294.62 L354.01,293.19 L355.63,291.74 L357.27,290.29 L358.92,288.83 L360.59,287.36 L362.28,285.88 L363.98,284.40 L365.71,282.91 L367.45,281.41 L369.21,279.90 L370.98,278.38 L372.78,276.85 L374.59,275.32 L376.43,273.78 L378.28,272.23 L380.15,270.67 L382.04,269.11 L383.95,267.53 L385.88,265.95 L387.83,264.35 L389.80,262.73 L391.79,261.09 L393.80,259.44 L395.84,257.78 L397.89,256.10 L399.97,254.40 L402.06,252.69 L404.18,250.97 L406.32,249.23 L408.48,247.48 L410.67,245.72 L412.87,243.94 L415.11,242.16 L417.36,240.36 L419.64,238.56 L421.94,236.74 L424.26,234.91 L426.61,233.08 L428.98,231.23 L431.38,229.38 L433.80,227.52 L436.25,225.66 L438.72,223.78 L441.22,221.90 L443.74,220.02 L446.29,218.13 L448.87,216.23 L451.48,214.33 L454.11,212.43 L456.76,210.52 L459.45,208.61 L462.16,206.70 L464.90,204.79 L467.68,202.87 L470.47,200.93 L473.30,198.99 L476.16,197.03 L479.05,195.06 L481.96,193.08 L484.91,191.09 L487.89,189.10 L490.90,187.09 L493.94,185.07 L497.01,183.05 L500.11,181.01 L503.25,178.97 L506.41,176.92 L509.61,174.87 L512.85,172.80 L516.12,170.73 L519.42,168.66 L522.75,166.58 L526.12,164.49 L529.53,162.40 L532.97,160.30 L536.44,158.20 L539.96,156.09 L543.51,153.99 L547.09,151.87 L550.71,149.76 L554.37,147.64 L558.07,145.52 L561.81,143.40 L565.58,141.28 L569.40,139.15 L573.25,137.01 L577.15,134.87 L581.08,132.71 L585.06,130.55 L589.07,128.39 L593.13,126.22 L597.23,124.04 L601.38,121.85 L605.56,119.66 L609.79,117.46 L614.06,115.26 L618.38,113.06 L622.74,110.85 L627.15,108.63 L631.61,106.42 L636.11,104.19 L640.65,101.97 L645.24,99.74 L649.89,97.51 L654.58,95.28 L659.31,93.05 L664.10,90.81 L668.94,88.58 L673.82,86.34 L678.76,84.10 L683.75,81.86 L688.79,79.62 L693.88,77.38 L699.03,75.14 L704.23,72.89 L709.48,70.64 L714.79,68.39 L720.15,66.13 L725.57,63.87 L731.04,61.61 L736.57,59.34 L742.16,57.07 L747.81,54.80 L753.52,52.52 L759.28,50.24 L765.10,47.96 L770.99,45.67 L776.93,43.38 L782.94,41.09 L789.01,38.80 L795.14,36.50 L801.34,34.20 L807.60,31.90 L821.80,26.83" stroke="#dd0000" stroke-width="1.4"/>
<path d="M268.93,407.23 L277.60,393.40 L278.34,392.46 L279.09,391.51 L279.85,390.55 L280.62,389.59 L281.39,388.62 L282.17,387.64 L282.96,386.66 L283.75,385.66 L284.55,384.66 L285.36,383.66 L286.18,382.65 L287.00,381.63 L287.83,380.60 L288.67,379.57 L289.52,378.53 L290.37,377.48 L291.24,376.43 L292.11,375.37 L292.99,374.31 L293.87,373.23 L294.77,372.16 L295.67,371.07 L296.59,369.98 L297.51,368.89 L298.44,367.79 L299.38,366.68 L300.32,365.57 L301.28,364.45 L302.25,363.32 L303.22,362.19 L304.20,361.05 L305.19,359.91 L306.20,358.77 L307.21,357.61 L308.23,356.45 L309.26,355.29 L310.30,354.12 L311.35,352.95 L312.40,351.77 L313.47,350.59 L314.55,349.40 L315.64,348.20 L316.74,347.01 L317.85,345.80 L318.97,344.59 L320.10,343.38 L321.24,342.16 L322.39,340.94 L323.55,339.72 L324.73,338.49 L325.91,337.25 L327.10,336.01 L328.31,334.77 L329.53,333.52 L330.76,332.27 L332.00,331.01 L333.25,329.75 L334.51,328.48 L335.79,327.21 L337.07,325.93 L338.37,324.63 L339.68,323.33 L341.01,322.03 L342.34,320.71 L343.69,319.39 L345.05,318.05 L346.43,316.71 L347.81,315.37 L349.21,314.01 L350.62,312.65 L352.05,311.28 L353.49,309.90 L354.94,308.51 L356.41,307.11 L357.89,305.71 L359.38,304.30 L360.89,302.88 L362.41,301.46 L363.94,300.03 L365.49,298.59 L367.06,297.14 L368.64,295.68 L370.23,294.22 L371.84,292.75 L373.46,291.27 L375.10,289.79 L376.75,288.30 L378.42,286.80 L380.11,285.29 L381.81,283.78 L383.53,282.26 L385.26,280.73 L387.01,279.19 L388.77,277.65 L390.55,276.10 L392.35,274.55 L394.17,272.98 L396.00,271.41 L397.85,269.84 L399.72,268.25 L401.60,266.66 L403.50,265.06 L405.42,263.44 L407.36,261.80 L409.31,260.15 L411.29,258.48 L413.28,256.80 L415.29,255.11 L417.32,253.40 L419.36,251.68 L421.43,249.95 L423.52,248.21 L425.62,246.46 L427.75,244.69 L429.90,242.92 L432.06,241.14 L434.25,239.35 L436.45,237.55 L438.68,235.74 L440.93,233.93 L443.20,232.11 L445.49,230.28 L447.80,228.45 L450.13,226.62 L452.48,224.78 L454.86,222.94 L457.26,221.09 L459.68,219.25 L462.12,217.40 L464.59,215.55 L467.08,213.70 L469.59,211.85 L472.13,210.00 L474.69,208.15 L477.27,206.30 L479.88,204.45 L482.51,202.60 L485.17,200.74 L487.85,198.88 L490.55,197.01 L493.29,195.13 L496.04,193.25 L498.83,191.37 L501.63,189.47 L504.47,187.58 L507.33,185.67 L510.22,183.77 L513.13,181.85 L516.08,179.94 L519.05,178.02 L522.04,176.10 L525.07,174.17 L528.12,172.24 L531.21,170.31 L534.32,168.37 L537.46,166.43 L540.63,164.49 L543.83,162.55 L547.05,160.60 L550.31,158.66 L553.60,156.71 L556.92,154.76 L560.27,152.81 L563.66,150.86 L567.07,148.90 L570.52,146.95 L574.00,145.00 L577.51,143.05 L581.05,141.09 L584.63,139.14 L588.24,137.18 L591.88,135.23 L595.56,133.27 L599.27,131.31 L603.01,129.34 L606.80,127.38 L610.61,125.41 L614.46,123.44 L618.35,121.47 L622.28,119.50 L626.24,117.52 L630.24,115.55 L634.27,113.57 L638.35,111.58 L642.46,109.60 L646.61,107.61 L650.79,105.62 L655.02,103.63 L659.29,101.63 L663.60,99.64 L667.94,97.64 L672.33,95.63 L676.76,93.63 L681.23,91.62 L685.74,89.60 L690.29,87.59 L694.89,85.57 L699.53,83.55 L704.21,81.52 L708.94,79.50 L713.71,77.47 L718.52,75.43 L723.38,73.39 L728.29,71.34 L733.24,69.29 L738.23,67.24 L743.28,65.18 L748.37,63.12 L753.51,61.05 L758.69,58.98 L763.93,56.91 L769.21,54.83 L774.54,52.75 L779.92,50.66 L785.36,48.58 L790.84,46.49 L796.38,44.39 L801.96,42.30 L807.60,40.20 L821.80,35.07" stroke="#cc0000" stroke-width="1.4"/>
<path d="M279.54,408.79 L289.50,393.40 L290.30,392.42 L291.10,391.44 L291.91,390.45 L292.73,389.45 L293.55,388.44 L294.38,387.43 L295.22,386.41 L296.07,385.38 L296.92,384.34 L297.78,383.29 L298.65,382.24 L299.53,381.18 L300.41,380.12 L301.30,379.04 L302.20,377.96 L303.11,376.87 L304.02,375.78 L304.94,374.68 L305.87,373.57 L306.81,372.46 L307.76,371.33 L308.71,370.21 L309.68,369.07 L310.65,367.93 L311.63,366.78 L312.62,365.63 L313.61,364.47 L314.62,363.30 L315.64,362.13 L316.66,360.95 L317.69,359.77 L318.73,358.58 L319.78,357.38 L320.84,356.18 L321.91,354.97 L322.99,353.76 L324.08,352.54 L325.17,351.32 L326.28,350.09 L327.40,348.86 L328.52,347.62 L329.66,346.37 L330.80,345.12 L331.96,343.87 L333.12,342.61 L334.30,341.34 L335.48,340.07 L336.68,338.80 L337.89,337.52 L339.10,336.23 L340.33,334.94 L341.57,333.65 L342.82,332.35 L344.08,331.05 L345.35,329.74 L346.63,328.43 L347.92,327.10 L349.23,325.76 L350.54,324.41 L351.87,323.05 L353.21,321.68 L354.56,320.29 L355.92,318.90 L357.29,317.50 L358.68,316.09 L360.08,314.66 L361.49,313.23 L362.91,311.79 L364.34,310.34 L365.79,308.89 L367.25,307.42 L368.72,305.95 L370.21,304.47 L371.70,302.98 L373.22,301.48 L374.74,299.98 L376.28,298.47 L377.83,296.96 L379.39,295.44 L380.97,293.91 L382.56,292.38 L384.17,290.84 L385.79,289.30 L387.42,287.76 L389.07,286.20 L390.73,284.65 L392.40,283.09 L394.09,281.53 L395.80,279.96 L397.52,278.40 L399.26,276.82 L401.01,275.25 L402.77,273.67 L404.55,272.10 L406.35,270.52 L408.16,268.94 L409.99,267.35 L411.83,265.77 L413.69,264.18 L415.57,262.58 L417.46,260.97 L419.37,259.36 L421.29,257.74 L423.24,256.11 L425.20,254.47 L427.17,252.83 L429.16,251.19 L431.17,249.53 L433.20,247.87 L435.25,246.21 L437.31,244.54 L439.39,242.86 L441.49,241.18 L443.61,239.50 L445.75,237.80 L447.90,236.11 L450.07,234.41 L452.26,232.70 L454.48,230.99 L456.71,229.28 L458.96,227.56 L461.23,225.83 L463.51,224.11 L465.82,222.38 L468.15,220.64 L470.50,218.90 L472.87,217.16 L475.26,215.42 L477.67,213.67 L480.11,211.92 L482.56,210.17 L485.03,208.41 L487.53,206.66 L490.05,204.90 L492.59,203.13 L495.15,201.36 L497.73,199.58 L500.34,197.79 L502.97,195.99 L505.62,194.19 L508.29,192.38 L510.99,190.56 L513.71,188.74 L516.46,186.92 L519.23,185.09 L522.02,183.25 L524.84,181.41 L527.68,179.56 L530.55,177.72 L533.44,175.87 L536.36,174.01 L539.30,172.16 L542.27,170.30 L545.26,168.44 L548.28,166.58 L551.33,164.72 L554.40,162.85 L557.50,160.99 L560.62,159.13 L563.78,157.26 L566.96,155.40 L570.17,153.54 L573.40,151.68 L576.67,149.83 L579.96,147.97 L583.28,146.12 L586.63,144.27 L590.01,142.43 L593.42,140.59 L596.86,138.75 L600.32,136.91 L603.82,135.07 L607.35,133.24 L610.91,131.41 L614.50,129.58 L618.12,127.75 L621.78,125.92 L625.46,124.09 L629.18,122.26 L632.93,120.43 L636.71,118.60 L640.52,116.77 L644.37,114.93 L648.25,113.10 L652.17,111.27 L656.11,109.43 L660.10,107.59 L664.12,105.75 L668.17,103.91 L672.26,102.07 L676.38,100.22 L680.54,98.37 L684.74,96.51 L688.97,94.66 L693.24,92.79 L697.54,90.93 L701.89,89.06 L706.27,87.18 L710.69,85.30 L715.14,83.42 L719.64,81.53 L724.18,79.63 L728.75,77.73 L733.37,75.83 L738.02,73.91 L742.72,71.99 L747.45,70.07 L752.23,68.13 L757.05,66.20 L761.91,64.26 L766.81,62.31 L771.76,60.36 L776.74,58.40 L781.78,56.44 L786.85,54.48 L791.97,52.52 L797.14,50.55 L802.35,48.57 L807.60,46.60 L821.80,41.43" stroke="#bb0000" stroke-width="1.4"/>
<path d="M288.27,410.39 L299.30,393.40 L300.13,392.33 L300.97,391.26 L301.82,390.19 L302.68,389.10 L303.54,388.01 L304.41,386.91 L305.28,385.81 L306.17,384.70 L307.06,383.59 L307.96,382.47 L308.86,381.34 L309.77,380.20 L310.69,379.07 L311.62,377.92 L312.56,376.77 L313.50,375.61 L314.45,374.45 L315.41,373.28 L316.38,372.11 L317.35,370.93 L318.33,369.75 L319.32,368.56 L320.32,367.36 L321.33,366.16 L322.34,364.96 L323.37,363.75 L324.40,362.53 L325.44,361.31 L326.49,360.08 L327.55,358.85 L328.61,357.61 L329.69,356.37 L330.77,355.13 L331.86,353.87 L332.97,352.62 L334.08,351.36 L335.20,350.09 L336.33,348.82 L337.47,347.55 L338.61,346.27 L339.77,344.98 L340.94,343.70 L342.11,342.40 L343.30,341.11 L344.50,339.80 L345.70,338.50 L346.92,337.19 L348.14,335.88 L349.38,334.56 L350.62,333.23 L351.88,331.91 L353.15,330.58 L354.42,329.24 L355.71,327.90 L357.01,326.55 L358.32,325.19 L359.64,323.82 L360.97,322.44 L362.31,321.05 L363.66,319.66 L365.03,318.26 L366.40,316.85 L367.79,315.43 L369.18,314.01 L370.59,312.58 L372.01,311.14 L373.44,309.69 L374.89,308.24 L376.34,306.78 L377.81,305.32 L379.29,303.85 L380.78,302.37 L382.29,300.89 L383.80,299.40 L385.33,297.91 L386.87,296.41 L388.43,294.91 L390.00,293.40 L391.58,291.89 L393.17,290.37 L394.77,288.85 L396.39,287.32 L398.03,285.79 L399.67,284.26 L401.33,282.72 L403.01,281.18 L404.69,279.63 L406.39,278.08 L408.11,276.53 L409.84,274.98 L411.58,273.42 L413.34,271.86 L415.11,270.30 L416.90,268.74 L418.70,267.18 L420.51,265.61 L422.34,264.03 L424.19,262.44 L426.05,260.85 L427.93,259.25 L429.82,257.64 L431.73,256.03 L433.65,254.41 L435.59,252.78 L437.55,251.14 L439.52,249.51 L441.50,247.86 L443.51,246.21 L445.53,244.55 L447.56,242.89 L449.62,241.23 L451.69,239.56 L453.78,237.89 L455.88,236.21 L458.00,234.53 L460.14,232.85 L462.30,231.16 L464.47,229.47 L466.66,227.78 L468.88,226.08 L471.10,224.38 L473.35,222.68 L475.62,220.98 L477.90,219.28 L480.20,217.58 L482.53,215.88 L484.87,214.17 L487.23,212.47 L489.61,210.76 L492.01,209.06 L494.43,207.35 L496.86,205.65 L499.32,203.95 L501.80,202.24 L504.30,200.53 L506.82,198.82 L509.36,197.10 L511.92,195.38 L514.51,193.66 L517.11,191.93 L519.74,190.20 L522.38,188.47 L525.05,186.74 L527.74,185.00 L530.46,183.26 L533.19,181.52 L535.95,179.78 L538.73,178.03 L541.53,176.29 L544.36,174.54 L547.21,172.79 L550.08,171.04 L552.98,169.29 L555.90,167.53 L558.84,165.78 L561.81,164.02 L564.81,162.26 L567.82,160.51 L570.87,158.75 L573.93,156.99 L577.03,155.23 L580.15,153.47 L583.29,151.71 L586.46,149.95 L589.66,148.19 L592.88,146.43 L596.13,144.67 L599.40,142.91 L602.70,141.15 L606.03,139.39 L609.39,137.63 L612.77,135.87 L616.19,134.12 L619.63,132.36 L623.10,130.61 L626.59,128.85 L630.12,127.09 L633.67,125.34 L637.26,123.58 L640.87,121.82 L644.52,120.06 L648.19,118.30 L651.89,116.54 L655.63,114.78 L659.39,113.02 L663.19,111.25 L667.01,109.48 L670.87,107.71 L674.76,105.94 L678.68,104.17 L682.64,102.39 L686.63,100.61 L690.65,98.83 L694.70,97.05 L698.78,95.26 L702.90,93.47 L707.06,91.67 L711.25,89.87 L715.47,88.07 L719.73,86.27 L724.02,84.45 L728.34,82.64 L732.71,80.82 L737.11,79.00 L741.54,77.17 L746.01,75.33 L750.52,73.49 L755.07,71.64 L759.65,69.78 L764.27,67.92 L768.93,66.06 L773.62,64.19 L778.36,62.32 L783.13,60.44 L787.95,58.56 L792.80,56.67 L797.69,54.78 L802.63,52.89 L807.60,51.00 L821.80,45.75" stroke="#aa0000" stroke-width="1.4"/>
<path d="M294.51,411.40 L306.30,393.40 L307.16,392.30 L308.02,391.20 L308.90,390.09 L309.77,388.98 L310.66,387.86 L311.55,386.73 L312.45,385.60 L313.36,384.46 L314.27,383.32 L315.20,382.17 L316.12,381.01 L317.06,379.85 L318.00,378.68 L318.95,377.51 L319.91,376.33 L320.88,375.15 L321.85,373.96 L322.83,372.76 L323.82,371.56 L324.82,370.36 L325.82,369.14 L326.84,367.93 L327.86,366.71 L328.89,365.48 L329.92,364.25 L330.97,363.01 L332.02,361.77 L333.09,360.52 L334.16,359.27 L335.23,358.01 L336.32,356.75 L337.42,355.48 L338.52,354.21 L339.64,352.93 L340.76,351.65 L341.89,350.37 L343.03,349.08 L344.18,347.78 L345.34,346.48 L346.50,345.18 L347.68,343.87 L348.87,342.56 L350.06,341.24 L351.27,339.92 L352.48,338.60 L353.71,337.27 L354.94,335.93 L356.18,334.60 L357.44,333.25 L358.70,331.91 L359.97,330.56 L361.25,329.20 L362.55,327.84 L363.85,326.47 L365.17,325.09 L366.49,323.69 L367.83,322.30 L369.17,320.89 L370.53,319.47 L371.89,318.05 L373.27,316.62 L374.66,315.18 L376.06,313.73 L377.47,312.28 L378.89,310.82 L380.32,309.35 L381.77,307.88 L383.22,306.40 L384.69,304.92 L386.17,303.43 L387.66,301.93 L389.16,300.43 L390.68,298.92 L392.20,297.41 L393.74,295.90 L395.29,294.38 L396.86,292.86 L398.43,291.33 L400.02,289.80 L401.62,288.26 L403.23,286.73 L404.86,285.19 L406.50,283.64 L408.15,282.10 L409.81,280.55 L411.49,279.00 L413.18,277.45 L414.89,275.90 L416.61,274.34 L418.34,272.79 L420.08,271.23 L421.84,269.68 L423.61,268.12 L425.40,266.56 L427.20,265.00 L429.02,263.44 L430.85,261.86 L432.69,260.28 L434.55,258.70 L436.43,257.11 L438.31,255.52 L440.22,253.92 L442.14,252.32 L444.07,250.71 L446.02,249.10 L447.98,247.48 L449.96,245.86 L451.96,244.24 L453.97,242.61 L456.00,240.98 L458.04,239.35 L460.10,237.71 L462.18,236.08 L464.27,234.43 L466.38,232.79 L468.50,231.14 L470.65,229.50 L472.81,227.85 L474.98,226.20 L477.18,224.54 L479.39,222.89 L481.62,221.23 L483.86,219.58 L486.13,217.92 L488.41,216.26 L490.71,214.60 L493.03,212.95 L495.37,211.29 L497.72,209.63 L500.09,207.97 L502.49,206.32 L504.90,204.66 L507.33,203.00 L509.78,201.34 L512.25,199.68 L514.74,198.01 L517.25,196.35 L519.77,194.68 L522.32,193.01 L524.89,191.34 L527.48,189.67 L530.09,187.99 L532.72,186.32 L535.37,184.64 L538.04,182.96 L540.74,181.28 L543.45,179.59 L546.19,177.91 L548.94,176.22 L551.72,174.54 L554.53,172.85 L557.35,171.16 L560.20,169.47 L563.06,167.78 L565.95,166.09 L568.87,164.39 L571.81,162.70 L574.77,161.00 L577.75,159.31 L580.76,157.61 L583.79,155.91 L586.84,154.21 L589.92,152.51 L593.03,150.81 L596.16,149.11 L599.31,147.41 L602.49,145.71 L605.69,144.01 L608.92,142.30 L612.17,140.60 L615.45,138.90 L618.76,137.20 L622.09,135.49 L625.45,133.79 L628.84,132.09 L632.25,130.39 L635.69,128.68 L639.15,126.98 L642.65,125.28 L646.17,123.57 L649.72,121.87 L653.30,120.16 L656.90,118.45 L660.54,116.74 L664.20,115.03 L667.89,113.32 L671.61,111.61 L675.36,109.89 L679.14,108.18 L682.95,106.46 L686.79,104.74 L690.66,103.02 L694.57,101.29 L698.50,99.57 L702.46,97.84 L706.46,96.11 L710.48,94.37 L714.54,92.64 L718.63,90.90 L722.76,89.16 L726.91,87.41 L731.10,85.66 L735.32,83.91 L739.58,82.16 L743.87,80.40 L748.19,78.64 L752.55,76.87 L756.94,75.10 L761.36,73.32 L765.82,71.53 L770.32,69.74 L774.85,67.95 L779.42,66.15 L784.03,64.35 L788.67,62.54 L793.34,60.74 L798.06,58.93 L802.81,57.11 L807.60,55.30 L821.80,50.06" stroke="#990000" stroke-width="1.4"/>
<path d="M300.30,412.80 L312.80,393.40 L313.68,392.21 L314.56,391.02 L315.46,389.83 L316.36,388.63 L317.26,387.42 L318.18,386.21 L319.10,385.00 L320.02,383.78 L320.96,382.56 L321.90,381.34 L322.85,380.11 L323.80,378.87 L324.77,377.63 L325.74,376.39 L326.71,375.14 L327.70,373.89 L328.69,372.64 L329.69,371.38 L330.70,370.12 L331.72,368.85 L332.74,367.58 L333.77,366.31 L334.81,365.03 L335.86,363.75 L336.91,362.46 L337.98,361.17 L339.05,359.88 L340.13,358.58 L341.22,357.28 L342.31,355.98 L343.42,354.67 L344.53,353.36 L345.65,352.04 L346.78,350.72 L347.92,349.40 L349.07,348.07 L350.23,346.74 L351.39,345.41 L352.57,344.07 L353.75,342.73 L354.94,341.39 L356.14,340.04 L357.35,338.69 L358.57,337.34 L359.80,335.98 L361.04,334.62 L362.29,333.26 L363.55,331.89 L364.81,330.52 L366.09,329.15 L367.38,327.77 L368.67,326.39 L369.98,325.00 L371.30,323.60 L372.62,322.20 L373.96,320.79 L375.30,319.38 L376.66,317.96 L378.03,316.54 L379.41,315.11 L380.80,313.67 L382.19,312.24 L383.60,310.79 L385.03,309.35 L386.46,307.89 L387.90,306.44 L389.35,304.98 L390.82,303.51 L392.29,302.05 L393.78,300.57 L395.28,299.10 L396.79,297.62 L398.31,296.13 L399.84,294.65 L401.39,293.15 L402.94,291.66 L404.51,290.16 L406.09,288.66 L407.69,287.16 L409.29,285.66 L410.91,284.15 L412.54,282.64 L414.18,281.12 L415.83,279.61 L417.50,278.09 L419.18,276.57 L420.87,275.04 L422.58,273.52 L424.30,271.99 L426.03,270.47 L427.77,268.94 L429.53,267.40 L431.31,265.87 L433.09,264.33 L434.89,262.79 L436.70,261.24 L438.53,259.68 L440.37,258.12 L442.22,256.55 L444.09,254.98 L445.98,253.41 L447.87,251.83 L449.79,250.25 L451.71,248.66 L453.66,247.07 L455.61,245.48 L457.58,243.88 L459.57,242.28 L461.57,240.68 L463.59,239.07 L465.62,237.47 L467.67,235.86 L469.73,234.24 L471.81,232.63 L473.91,231.01 L476.02,229.39 L478.15,227.78 L480.29,226.16 L482.45,224.53 L484.63,222.91 L486.82,221.29 L489.03,219.67 L491.26,218.04 L493.50,216.42 L495.76,214.80 L498.04,213.17 L500.34,211.55 L502.65,209.93 L504.98,208.31 L507.33,206.69 L509.70,205.07 L512.08,203.45 L514.49,201.83 L516.91,200.21 L519.35,198.59 L521.81,196.96 L524.29,195.34 L526.78,193.71 L529.30,192.09 L531.83,190.46 L534.39,188.83 L536.96,187.20 L539.56,185.56 L542.17,183.93 L544.80,182.30 L547.46,180.66 L550.13,179.03 L552.83,177.39 L555.54,175.75 L558.28,174.11 L561.03,172.48 L563.81,170.84 L566.61,169.19 L569.43,167.55 L572.27,165.91 L575.14,164.27 L578.02,162.62 L580.93,160.98 L583.86,159.34 L586.81,157.69 L589.79,156.05 L592.78,154.40 L595.81,152.75 L598.85,151.11 L601.92,149.46 L605.01,147.81 L608.12,146.17 L611.26,144.52 L614.42,142.87 L617.61,141.22 L620.82,139.57 L624.05,137.92 L627.31,136.27 L630.60,134.62 L633.91,132.97 L637.24,131.32 L640.60,129.67 L643.99,128.02 L647.40,126.37 L650.84,124.71 L654.31,123.06 L657.80,121.41 L661.32,119.75 L664.86,118.10 L668.43,116.44 L672.03,114.78 L675.66,113.13 L679.31,111.47 L683.00,109.81 L686.71,108.15 L690.45,106.49 L694.22,104.83 L698.01,103.17 L701.84,101.51 L705.69,99.84 L709.58,98.18 L713.49,96.52 L717.44,94.85 L721.41,93.18 L725.41,91.52 L729.45,89.85 L733.52,88.18 L737.61,86.51 L741.74,84.84 L745.90,83.17 L750.09,81.49 L754.32,79.82 L758.57,78.15 L762.86,76.47 L767.19,74.79 L771.54,73.11 L775.93,71.42 L780.35,69.74 L784.81,68.05 L789.30,66.36 L793.82,64.67 L798.38,62.98 L802.97,61.29 L807.60,59.60 L821.80,54.51" stroke="#8c0000" stroke-width="1.4"/>
<path d="M304.67,413.52 L317.70,393.40 L318.59,392.20 L319.49,390.99 L320.40,389.77 L321.31,388.55 L322.23,387.33 L323.16,386.11 L324.10,384.88 L325.04,383.64 L325.98,382.40 L326.94,381.16 L327.90,379.91 L328.87,378.66 L329.85,377.41 L330.83,376.15 L331.82,374.89 L332.82,373.62 L333.83,372.35 L334.84,371.08 L335.86,369.80 L336.89,368.52 L337.93,367.23 L338.97,365.94 L340.03,364.65 L341.09,363.35 L342.15,362.05 L343.23,360.74 L344.31,359.43 L345.40,358.12 L346.50,356.81 L347.61,355.49 L348.73,354.16 L349.85,352.84 L350.99,351.51 L352.13,350.17 L353.28,348.84 L354.44,347.50 L355.61,346.15 L356.78,344.81 L357.97,343.46 L359.16,342.10 L360.36,340.75 L361.57,339.38 L362.79,338.02 L364.02,336.65 L365.26,335.28 L366.51,333.91 L367.77,332.53 L369.04,331.15 L370.31,329.77 L371.60,328.38 L372.89,326.99 L374.20,325.59 L375.51,324.18 L376.84,322.76 L378.17,321.35 L379.52,319.92 L380.87,318.49 L382.24,317.05 L383.61,315.61 L384.99,314.17 L386.39,312.72 L387.80,311.26 L389.21,309.80 L390.64,308.33 L392.08,306.87 L393.52,305.39 L394.98,303.92 L396.45,302.43 L397.93,300.95 L399.43,299.46 L400.93,297.97 L402.44,296.48 L403.97,294.98 L405.50,293.48 L407.05,291.98 L408.61,290.48 L410.18,288.97 L411.77,287.46 L413.36,285.95 L414.97,284.44 L416.59,282.92 L418.22,281.41 L419.86,279.89 L421.52,278.37 L423.18,276.85 L424.86,275.34 L426.56,273.82 L428.26,272.30 L429.98,270.77 L431.71,269.25 L433.45,267.73 L435.21,266.21 L436.98,264.69 L438.76,263.16 L440.56,261.63 L442.37,260.10 L444.19,258.56 L446.03,257.02 L447.88,255.48 L449.74,253.93 L451.62,252.38 L453.51,250.83 L455.42,249.28 L457.34,247.72 L459.28,246.16 L461.23,244.60 L463.19,243.04 L465.17,241.47 L467.16,239.91 L469.17,238.34 L471.19,236.77 L473.23,235.20 L475.28,233.62 L477.35,232.05 L479.44,230.47 L481.54,228.89 L483.65,227.32 L485.78,225.74 L487.93,224.16 L490.09,222.57 L492.27,220.99 L494.47,219.41 L496.68,217.83 L498.91,216.24 L501.15,214.66 L503.41,213.07 L505.69,211.49 L507.99,209.90 L510.30,208.32 L512.63,206.74 L514.97,205.15 L517.34,203.57 L519.72,201.98 L522.12,200.39 L524.54,198.80 L526.98,197.21 L529.43,195.62 L531.90,194.03 L534.39,192.43 L536.90,190.84 L539.43,189.24 L541.98,187.65 L544.54,186.05 L547.13,184.45 L549.73,182.85 L552.36,181.24 L555.00,179.64 L557.66,178.04 L560.35,176.43 L563.05,174.83 L565.77,173.22 L568.52,171.62 L571.28,170.01 L574.06,168.40 L576.87,166.79 L579.70,165.18 L582.54,163.58 L585.41,161.97 L588.30,160.36 L591.21,158.75 L594.15,157.14 L597.10,155.53 L600.08,153.91 L603.08,152.30 L606.10,150.69 L609.14,149.08 L612.21,147.47 L615.30,145.86 L618.41,144.25 L621.55,142.64 L624.71,141.03 L627.89,139.42 L631.10,137.81 L634.33,136.21 L637.58,134.60 L640.86,133.00 L644.16,131.40 L647.49,129.80 L650.85,128.19 L654.22,126.59 L657.63,124.99 L661.05,123.39 L664.51,121.79 L667.99,120.19 L671.49,118.59 L675.03,116.98 L678.58,115.38 L682.17,113.77 L685.78,112.17 L689.42,110.56 L693.08,108.95 L696.78,107.34 L700.50,105.73 L704.25,104.12 L708.02,102.50 L711.83,100.89 L715.66,99.27 L719.52,97.64 L723.41,96.02 L727.33,94.39 L731.28,92.76 L735.26,91.12 L739.26,89.48 L743.30,87.84 L747.37,86.20 L751.46,84.55 L755.59,82.90 L759.75,81.24 L763.94,79.58 L768.16,77.91 L772.42,76.23 L776.70,74.55 L781.02,72.85 L785.37,71.15 L789.75,69.45 L794.16,67.74 L798.61,66.03 L803.09,64.31 L807.60,62.60 L821.80,57.34" stroke="#800000" stroke-width="1.4"/>
</g>
<g stroke="#7e7e7e" stroke-width="0.88" fill="none">
<rect x="197.50" y="16.50" width="610.00" height="377.00"/>
<path d="M197.50,393.50 v-5.30 M197.50,16.50 v5.30"/>
<path d="M228.50,393.50 v-2.90 M228.50,16.50 v2.90"/>
<path d="M258.50,393.50 v-2.90 M258.50,16.50 v2.90"/>
<path d="M289.50,393.50 v-2.90 M289.50,16.50 v2.90"/>
<path d="M319.50,393.50 v-2.90 M319.50,16.50 v2.90"/>
<path d="M350.50,393.50 v-5.30 M350.50,16.50 v5.30"/>
<path d="M380.50,393.50 v-2.90 M380.50,16.50 v2.90"/>
<path d="M411.50,393.50 v-2.90 M411.50,16.50 v2.90"/>
<path d="M441.50,393.50 v-2.90 M441.50,16.50 v2.90"/>
<path d="M472.50,393.50 v-2.90 M472.50,16.50 v2.90"/>
<path d="M502.50,393.50 v-5.30 M502.50,16.50 v5.30"/>
<path d="M533.50,393.50 v-2.90 M533.50,16.50 v2.90"/>
<path d="M563.50,393.50 v-2.90 M563.50,16.50 v2.90"/>
<path d="M594.50,393.50 v-2.90 M594.50,16.50 v2.90"/>
<path d="M624.50,393.50 v-2.90 M624.50,16.50 v2.90"/>
<path d="M655.50,393.50 v-5.30 M655.50,16.50 v5.30"/>
<path d="M685.50,393.50 v-2.90 M685.50,16.50 v2.90"/>
<path d="M716.50,393.50 v-2.90 M716.50,16.50 v2.90"/>
<path d="M746.50,393.50 v-2.90 M746.50,16.50 v2.90"/>
<path d="M777.50,393.50 v-2.90 M777.50,16.50 v2.90"/>
<path d="M807.50,393.50 v-5.30 M807.50,16.50 v5.30"/>
</g>
<path d="M197.50,16.50 h5.40 M807.50,16.50 h-4.80 M197.50,79.33 h5.40 M807.50,79.33 h-4.80 M197.50,142.17 h5.40 M807.50,142.17 h-4.80 M197.50,205.00 h5.40 M807.50,205.00 h-4.80 M197.50,267.83 h5.40 M807.50,267.83 h-4.80 M197.50,330.67 h5.40 M807.50,330.67 h-4.80 M197.50,393.50 h5.40 M807.50,393.50 h-4.80" stroke="#8c8c8c" stroke-width="0.8" fill="none"/>
<path d="M197.90,60.42 h2.30 M807.10,60.42 h-2.30 M197.90,49.35 h2.30 M807.10,49.35 h-2.30 M197.90,41.50 h2.30 M807.10,41.50 h-2.30 M197.90,35.41 h2.30 M807.10,35.41 h-2.30 M197.90,30.44 h2.30 M807.10,30.44 h-2.30 M197.90,26.23 h2.30 M807.10,26.23 h-2.30 M197.90,22.59 h2.30 M807.10,22.59 h-2.30 M197.90,19.38 h2.30 M807.10,19.38 h-2.30 M197.90,123.25 h2.30 M807.10,123.25 h-2.30 M197.90,112.19 h2.30 M807.10,112.19 h-2.30 M197.90,104.34 h2.30 M807.10,104.34 h-2.30 M197.90,98.25 h2.30 M807.10,98.25 h-2.30 M197.90,93.27 h2.30 M807.10,93.27 h-2.30 M197.90,89.07 h2.30 M807.10,89.07 h-2.30 M197.90,85.42 h2.30 M807.10,85.42 h-2.30 M197.90,82.21 h2.30 M807.10,82.21 h-2.30 M197.90,186.09 h2.30 M807.10,186.09 h-2.30 M197.90,175.02 h2.30 M807.10,175.02 h-2.30 M197.90,167.17 h2.30 M807.10,167.17 h-2.30 M197.90,161.08 h2.30 M807.10,161.08 h-2.30 M197.90,156.11 h2.30 M807.10,156.11 h-2.30 M197.90,151.90 h2.30 M807.10,151.90 h-2.30 M197.90,148.26 h2.30 M807.10,148.26 h-2.30 M197.90,145.04 h2.30 M807.10,145.04 h-2.30 M197.90,248.92 h2.30 M807.10,248.92 h-2.30 M197.90,237.85 h2.30 M807.10,237.85 h-2.30 M197.90,230.00 h2.30 M807.10,230.00 h-2.30 M197.90,223.91 h2.30 M807.10,223.91 h-2.30 M197.90,218.94 h2.30 M807.10,218.94 h-2.30 M197.90,214.73 h2.30 M807.10,214.73 h-2.30 M197.90,211.09 h2.30 M807.10,211.09 h-2.30 M197.90,207.88 h2.30 M807.10,207.88 h-2.30 M197.90,311.75 h2.30 M807.10,311.75 h-2.30 M197.90,300.69 h2.30 M807.10,300.69 h-2.30 M197.90,292.84 h2.30 M807.10,292.84 h-2.30 M197.90,286.75 h2.30 M807.10,286.75 h-2.30 M197.90,281.77 h2.30 M807.10,281.77 h-2.30 M197.90,277.57 h2.30 M807.10,277.57 h-2.30 M197.90,273.92 h2.30 M807.10,273.92 h-2.30 M197.90,270.71 h2.30 M807.10,270.71 h-2.30 M197.90,374.59 h2.30 M807.10,374.59 h-2.30 M197.90,363.52 h2.30 M807.10,363.52 h-2.30 M197.90,355.67 h2.30 M807.10,355.67 h-2.30 M197.90,349.58 h2.30 M807.10,349.58 h-2.30 M197.90,344.61 h2.30 M807.10,344.61 h-2.30 M197.90,340.40 h2.30 M807.10,340.40 h-2.30 M197.90,336.76 h2.30 M807.10,336.76 h-2.30 M197.90,333.54 h2.30 M807.10,333.54 h-2.30" stroke="#303030" stroke-width="0.9" fill="none"/>
<g font-family="'Liberation Sans', sans-serif" font-weight="bold" fill="#000" stroke="#000" stroke-width="0.35" stroke-linejoin="round" filter="url(#gray)">
<text x="190.22" y="421.60" font-size="26.9">0</text>
<text x="335.24" y="421.60" font-size="26.9">50</text>
<path d="M486.61,421.60 L490.43,421.60 L490.43,402.45 L487.47,402.45 C487.04,404.38 485.11,405.46 482.12,405.51 L482.12,408.07 L486.61,408.07 Z" fill="#000" stroke="none"/>
<text x="495.22" y="421.60" font-size="26.9">00</text>
<path d="M639.11,421.60 L642.93,421.60 L642.93,402.45 L639.97,402.45 C639.54,404.38 637.61,405.46 634.62,405.51 L634.62,408.07 L639.11,408.07 Z" fill="#000" stroke="none"/>
<text x="647.72" y="421.60" font-size="26.9">50</text>
<text x="785.27" y="421.60" font-size="26.9">200</text>
<path d="M186.14,25.90 L189.96,25.90 L189.96,6.75 L187.00,6.75 C186.57,8.68 184.64,9.76 181.65,9.81 L181.65,12.37 L186.14,12.37 Z" fill="#000" stroke="none"/>
<text x="157.36" y="88.73" font-size="26.9">0.</text>
<path d="M186.14,88.73 L189.96,88.73 L189.96,69.58 L187.00,69.58 C186.57,71.52 184.64,72.59 181.65,72.65 L181.65,75.20 L186.14,75.20 Z" fill="#000" stroke="none"/>
<text x="142.40" y="151.57" font-size="26.9">0.0</text>
<path d="M186.14,151.57 L189.96,151.57 L189.96,132.41 L187.00,132.41 C186.57,134.35 184.64,135.43 181.65,135.48 L181.65,138.04 L186.14,138.04 Z" fill="#000" stroke="none"/>
<text x="127.45" y="214.40" font-size="26.9">0.00</text>
<path d="M186.14,214.40 L189.96,214.40 L189.96,195.25 L187.00,195.25 C186.57,197.18 184.64,198.26 181.65,198.31 L181.65,200.87 L186.14,200.87 Z" fill="#000" stroke="none"/>
<path d="M147.64,278.23 L151.46,278.23 L151.46,259.08 L148.50,259.08 C148.07,261.02 146.13,262.09 143.14,262.15 L143.14,264.70 L147.64,264.70 Z" fill="#000" stroke="none"/>
<text x="156.24" y="278.23" font-size="26.9">0</text>
<text x="170.6" y="267.63" font-size="19.5" text-anchor="start">−<tspan dx="0.5">4</tspan></text>
<path d="M147.64,341.07 L151.46,341.07 L151.46,321.91 L148.50,321.91 C148.07,323.85 146.13,324.93 143.14,324.98 L143.14,327.54 L147.64,327.54 Z" fill="#000" stroke="none"/>
<text x="156.24" y="341.07" font-size="26.9">0</text>
<text x="170.6" y="330.47" font-size="19.5" text-anchor="start">−<tspan dx="0.5">5</tspan></text>
<path d="M147.64,403.90 L151.46,403.90 L151.46,384.75 L148.50,384.75 C148.07,386.68 146.13,387.76 143.14,387.81 L143.14,390.37 L147.64,390.37 Z" fill="#000" stroke="none"/>
<text x="156.24" y="403.90" font-size="26.9">0</text>
<text x="170.6" y="393.30" font-size="19.5" text-anchor="start">−<tspan dx="0.5">6</tspan></text>
<text x="0.3" y="212.8" font-size="26.3">sfe</text>
<text x="38.0" y="217.9" font-size="18.8">SNR</text>
<text x="77.6" y="219.6" font-size="20" font-weight="normal" stroke-width="0.3">−</text>
<text x="91.4" y="217.9" font-size="18.8" font-style="italic">C</text>
<text x="446.5" y="453.0" font-size="26.3" font-style="italic">R</text>
<text x="464.2" y="458.0" font-size="18.8">SNR</text>
<text x="512.5" y="451.8" font-size="24.3" font-family="'Liberation Serif', serif" stroke-width="0.15">(</text>
<text x="520.4" y="453.0" font-size="26.3">pc</text>
<text x="551.7" y="451.8" font-size="24.3" font-family="'Liberation Serif', serif" stroke-width="0.15">)</text>
</g>
</svg>
</body></html>
